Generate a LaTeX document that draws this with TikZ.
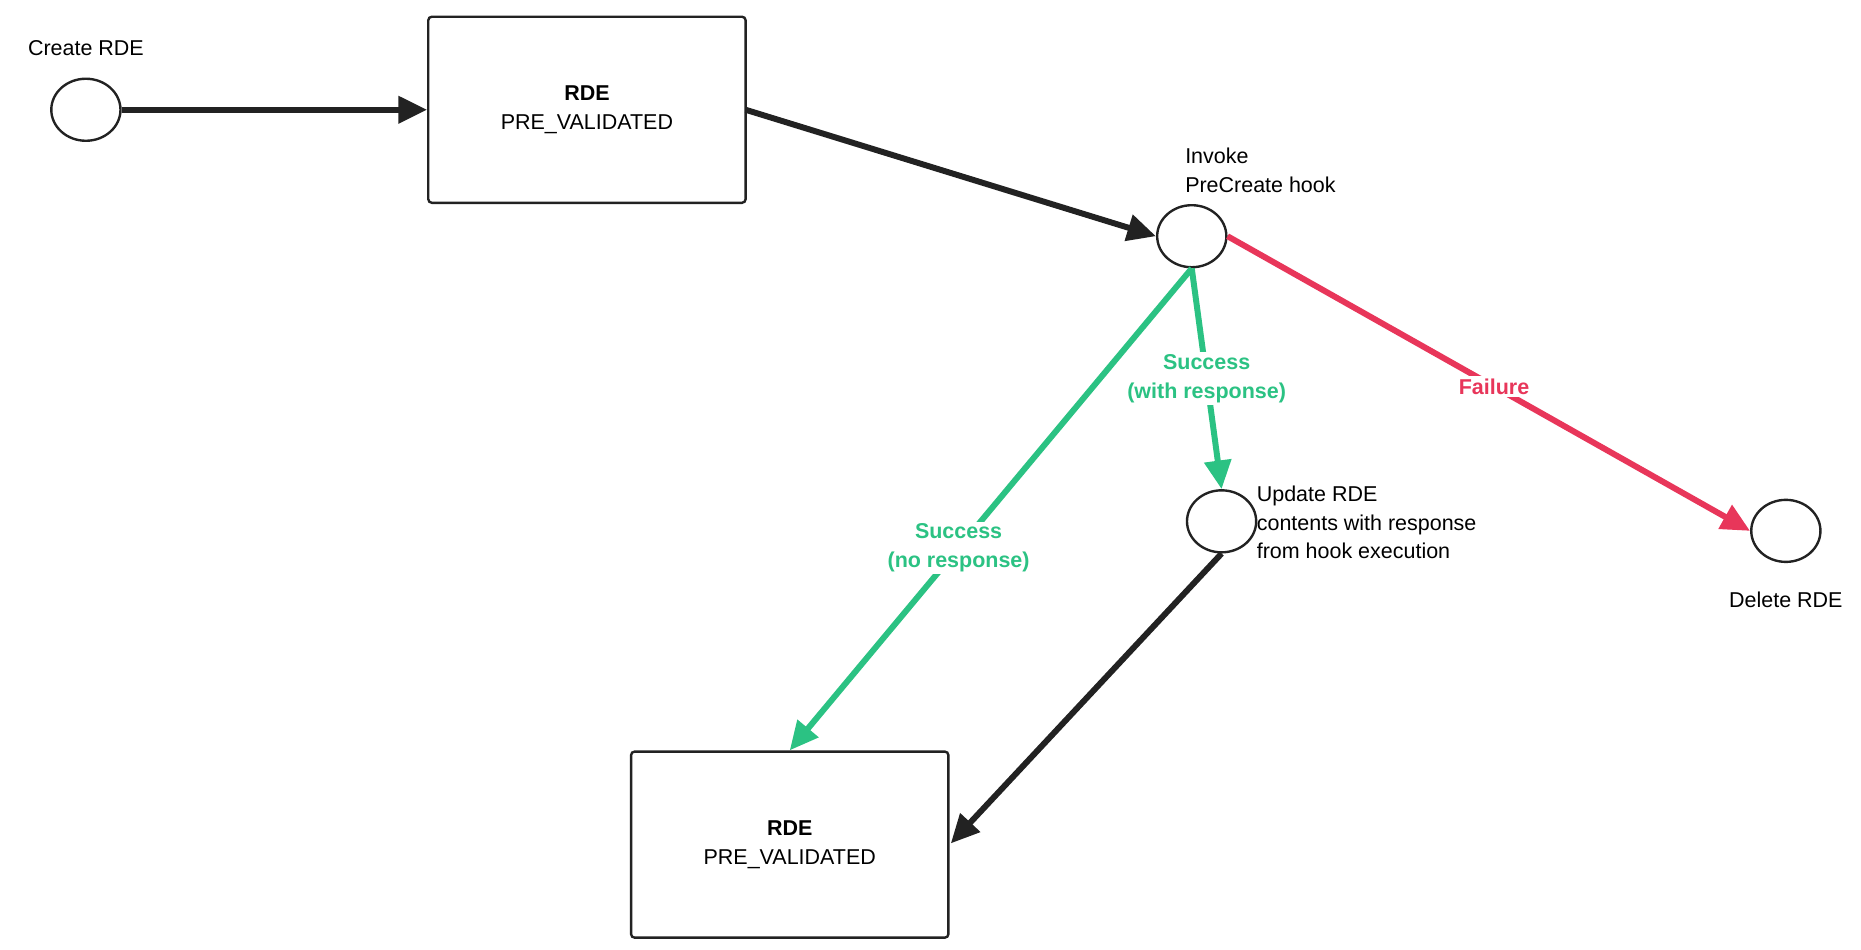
\documentclass[tikz,border=0pt]{standalone}
\usepackage{fontspec}
\setmainfont{Liberation Sans}
\usetikzlibrary{arrows.meta,shapes.geometric}
\definecolor{ink}{HTML}{222222}
\definecolor{okg}{HTML}{2BC283}
\definecolor{bad}{HTML}{E8365A}
\begin{document}
\begin{tikzpicture}[x=1pt,y=-1pt,
  every node/.style={font=\fontsize{18}{24}\selectfont},
  st/.style={draw=ink,line width=2pt,ellipse,minimum width=58pt,minimum height=52pt,inner sep=0pt},
  box/.style={draw=ink,line width=2pt,rounded corners=3pt,minimum width=266pt,minimum height=156pt,align=center},
  conn/.style={line width=5pt,-{Triangle[length=24pt,width=22pt]}},
  lab/.style={font=\fontsize{18}{24}\selectfont\bfseries,align=center,fill=white,inner sep=2pt}]
\useasboundingbox (0,0) rectangle (1560,796);
\node[st] (s) at (72,92) {};
\node at (72,40) {Create RDE};
\node[box] (b1) at (492,92) {\textbf{RDE}\\PRE\_VALIDATED};
\node[st] (h) at (999,198) {};
\node[align=left,anchor=west] at (990,143) {Invoke\\PreCreate hook};
\node[st] (d) at (1497,445) {};
\node at (1497,503) {Delete RDE};
\node[st] (u) at (1024,437) {};
\node[align=left,anchor=west] at (1050,438) {Update RDE\\contents with response\\from hook execution};
\node[box] (b2) at (662,708) {\textbf{RDE}\\PRE\_VALIDATED};
\draw[conn,ink] (s.east) -- (b1.west);
\draw[conn,ink] (625,92) -- (h.west);
\draw[conn,bad] (h.east) -- (d.west) node[lab,text=bad,pos=0.51] {Failure};
\draw[conn,okg] (h.south) -- (u.north) node[lab,text=okg,pos=0.5] {Success\\(with response)};
\draw[conn,okg] (h.south) -- (b2.north) node[lab,text=okg,pos=0.58] {Success\\(no response)};
\draw[conn,ink] (u.south) -- (797,707);
\end{tikzpicture}
\end{document}
